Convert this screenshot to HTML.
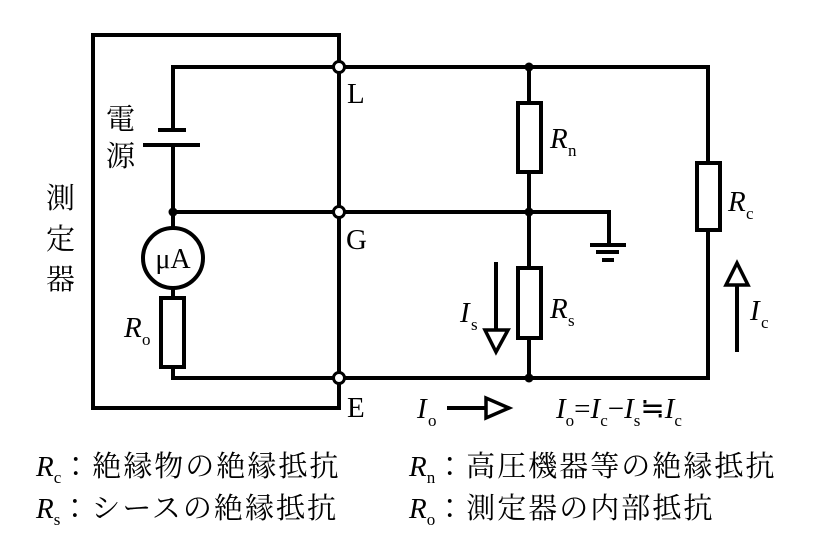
<!DOCTYPE html><html><head><style>body{margin:0;background:#fff}svg{display:block}text{font-family:"Liberation Serif","Noto Serif CJK JP","Noto Serif CJK SC",serif;fill:#000}.i{font-style:italic}</style></head><body>
<svg width="813" height="541" viewBox="0 0 813 541" xmlns="http://www.w3.org/2000/svg">
<g fill="none" stroke="#000" stroke-width="4">
<path d="M339 67V35H93V408H339V378"/>
<path d="M339 67V378"/>
<path d="M173 130V67H708V163M708 230V378H173V367M173 298V288M173 228V145M173 212H609V245"/>
<path d="M529 67V103M529 172V268M529 338V378"/>
<rect x="518" y="103" width="23" height="69"/>
<rect x="518" y="268" width="23" height="70"/>
<rect x="697" y="163" width="23" height="67"/>
<rect x="161" y="298" width="23" height="69"/>
<circle cx="173" cy="258" r="30"/>
<path d="M158 130H186M143 145H200"/>
<path d="M590 245H626M596 252H619M602 260H614"/>
<path d="M496 262V330M737 352V285M447 408H485"/>
<path d="M485 330H508L496 352Z M726 285H748L737 263Z M486 398V418L509 408Z" stroke-width="3.5" stroke-linejoin="miter"/>
</g>
<g fill="#fff" stroke="#000" stroke-width="3"><circle cx="339" cy="67" r="5.5"/><circle cx="339" cy="212" r="5.5"/><circle cx="339" cy="378" r="5.5"/></g>
<g fill="#000"><circle cx="529" cy="67" r="4.5"/><circle cx="529" cy="212" r="4.5"/><circle cx="529" cy="378" r="4.5"/><circle cx="173" cy="212" r="4.5"/></g>
<g font-size="29">
<text x="347" y="103">L</text><text x="346" y="249">G</text><text x="347" y="417">E</text>
<text x="173" y="268" font-size="28" text-anchor="middle">μA</text>
<text x="106" y="129">電</text><text x="106" y="166">源</text>
<text x="46" y="208">測</text><text x="46" y="249">定</text><text x="46" y="289">器</text>
<text x="124" y="337" class="i">R</text><text x="142" y="345" font-size="17">o</text>
<text x="550" y="148" class="i">R</text><text x="568" y="156" font-size="17">n</text>
<text x="550" y="318" class="i">R</text><text x="568" y="326" font-size="17">s</text>
<text x="728" y="211" class="i">R</text><text x="746" y="219" font-size="17">c</text>
<text x="460" y="322" class="i">I</text><text x="471" y="330" font-size="17">s</text>
<text x="750" y="320" class="i">I</text><text x="761" y="328" font-size="17">c</text>
<text x="417" y="418" class="i">I</text><text x="428" y="426" font-size="17">o</text>
<text x="556" y="418"><tspan class="i">I</tspan><tspan font-size="17" dy="8">o</tspan><tspan dy="-8">=</tspan><tspan class="i">I</tspan><tspan font-size="17" dy="8">c</tspan><tspan dy="-8">−</tspan><tspan class="i">I</tspan><tspan font-size="17" dy="8">s</tspan><tspan dy="-8">≒</tspan><tspan class="i">I</tspan><tspan font-size="17" dy="8">c</tspan></text>
</g>
<g font-size="29">
<text x="36" y="476"><tspan class="i">R</tspan><tspan font-size="17" dy="7">c</tspan><tspan dy="-7" letter-spacing="2">：絶縁物の絶縁抵抗</tspan></text>
<text x="36" y="518"><tspan class="i">R</tspan><tspan font-size="17" dy="7">s</tspan><tspan dy="-7" letter-spacing="2">：シースの絶縁抵抗</tspan></text>
<text x="409" y="476"><tspan class="i">R</tspan><tspan font-size="17" dy="7">n</tspan><tspan dy="-7" letter-spacing="2">：高圧機器等の絶縁抵抗</tspan></text>
<text x="409" y="518"><tspan class="i">R</tspan><tspan font-size="17" dy="7">o</tspan><tspan dy="-7" letter-spacing="2">：測定器の内部抵抗</tspan></text>
</g>
</svg></body></html>
